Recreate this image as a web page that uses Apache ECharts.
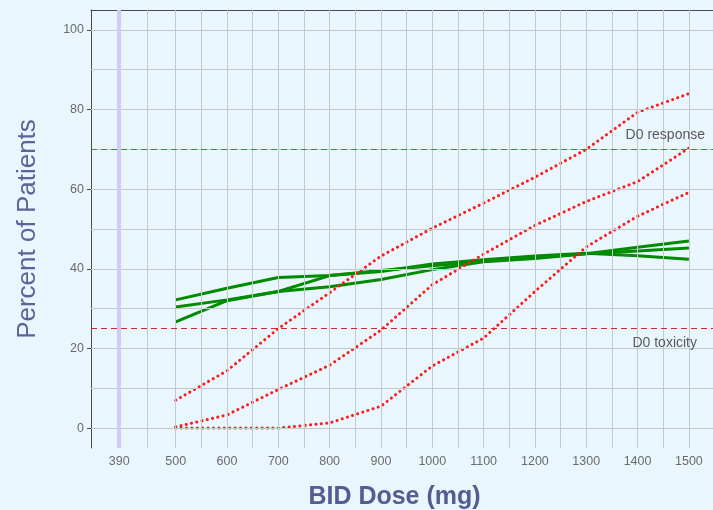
<!DOCTYPE html>
<html>
<head>
<meta charset="utf-8">
<script src="https://cdn.jsdelivr.net/npm/echarts@6/dist/echarts.min.js"></script>
<style>
  html, body { margin: 0; padding: 0; background: #eaf6fd; }
  #chart { width: 713px; height: 510px; }
</style>
</head>
<body>
<div id="chart"></div>
<script>
// Dose levels (mg) shared by every curve
const doses = [500, 600, 700, 800, 900, 1000, 1100, 1200, 1300, 1400, 1500];

// Response curves (solid green), percent of patients
const responseA = [32.2, 35.1, 37.8, 38.3, 39.3, 41.2, 42.3, 43.2, 43.9, 43.3, 42.4];
const responseB = [30.4, 32.2, 34.3, 38.3, 39.6, 40.8, 41.9, 42.9, 43.8, 44.5, 45.2];
const responseC = [26.7, 32.0, 34.3, 35.5, 37.3, 39.8, 41.8, 42.6, 43.8, 45.4, 47.0];

// Toxicity curves (dotted red), percent of patients
const toxicityA = [7.0, 14.4, 25.0, 34.0, 43.2, 50.2, 56.5, 63.0, 70.0, 79.3, 84.0];
const toxicityB = [0.3, 3.3, 9.7, 15.8, 24.6, 36.0, 43.7, 50.9, 56.9, 61.9, 70.3];
const toxicityC = [0.0, 0.0, 0.0, 1.3, 5.5, 15.6, 22.6, 34.3, 45.5, 53.2, 59.2];

// Axis breaks
const xTicks = [390, 500, 600, 700, 800, 900, 1000, 1100, 1200, 1300, 1400, 1500];
const yTicks = [0, 20, 40, 60, 80, 100];

// Reference levels
const startDose = 390;
const responseTarget = 70;
const toxicityLimit = 25;

// Minor breaks sit halfway between consecutive major breaks
const xMinor = xTicks.slice(1).map((v, i) => (v + xTicks[i]) / 2);
const yMinor = yTicks.slice(1).map((v, i) => (v + yTicks[i]) / 2);

const font = "'Liberation Sans', Arial, sans-serif";
const gridColor = '#c3c8cb';

const toPairs = ys => doses.map((d, i) => [d, ys[i]]);

const gridLines = []
  .concat(xTicks.concat(xMinor).map(v => ({ xAxis: v })))
  .concat(yTicks.concat(yMinor).map(v => ({ yAxis: v })));

function responseSeries(ys) {
  return {
    type: 'line', data: toPairs(ys), showSymbol: false, z: 3,
    lineStyle: { color: '#008b00', width: 3 }, silent: true
  };
}
function toxicitySeries(ys) {
  return {
    type: 'line', data: toPairs(ys), showSymbol: false, z: 4,
    lineStyle: { color: '#ff1a1a', width: 3, type: [0.1, 5.3], cap: 'round' }, silent: true
  };
}

const chart = echarts.init(document.getElementById('chart'), null, { renderer: 'canvas' });
chart.setOption({
  backgroundColor: '#eaf6fd',
  animation: false,
  grid: { left: 91, right: 0, top: 10, bottom: 62, containLabel: false, outerBoundsMode: 'none' },
  xAxis: [{
    type: 'value', min: 335, max: 1547,
    name: 'BID Dose (mg)', nameLocation: 'middle', nameGap: 37,
    nameTextStyle: { fontFamily: font, fontSize: 25, fontWeight: 'bold', color: '#545d92', padding: [0, 15, 0, 0] },
    axisLine: { show: true, lineStyle: { color: '#4a4a4a', width: 1 } },
    axisTick: { show: true, customValues: xTicks, length: 3, lineStyle: { color: '#4a4a4a' } },
    axisLabel: {
      customValues: xTicks, formatter: v => String(v),
      color: '#6b6b6b', fontFamily: font, fontSize: 12.5, margin: 7
    },
    splitLine: { show: false }
  }, {
    type: 'value', min: 335, max: 1547, position: 'top',
    axisLine: { show: true, lineStyle: { color: '#4a4a4a', width: 1 } },
    axisTick: { show: false }, axisLabel: { show: false }, splitLine: { show: false }
  }],
  yAxis: {
    type: 'value', min: -5, max: 105,
    name: 'Percent of Patients', nameLocation: 'middle', nameGap: 50,
    nameTextStyle: { fontFamily: font, fontSize: 26, color: '#5a6496' },
    axisLine: { show: true, lineStyle: { color: '#4a4a4a', width: 1 } },
    axisTick: { show: true, customValues: yTicks, length: 4, lineStyle: { color: '#4a4a4a' } },
    axisLabel: {
      customValues: yTicks, formatter: v => String(v),
      color: '#6b6b6b', fontFamily: font, fontSize: 12.5, margin: 7
    },
    splitLine: { show: false }
  },
  series: [
    {
      // panel grid
      type: 'line', data: [], z: 1, silent: true,
      markLine: {
        silent: true, symbol: 'none', animation: false,
        label: { show: false },
        lineStyle: { color: gridColor, width: 1, type: 'solid' },
        data: gridLines
      }
    },
    {
      // reference lines
      type: 'line', data: [], z: 2, silent: true,
      markLine: {
        silent: true, symbol: 'none', animation: false,
        data: [
          {
            xAxis: startDose,
            lineStyle: { color: '#cfcaf8', width: 4, type: 'solid' },
            label: { show: false }
          },
          {
            yAxis: responseTarget,
            lineStyle: { color: '#3f8a3f', width: 1, type: [6, 4] },
            label: {
              show: true, formatter: 'D0 response', position: 'insideEndTop',
              distance: [8, 7], color: '#5a5a5a', fontFamily: font, fontSize: 14
            }
          },
          {
            yAxis: toxicityLimit,
            lineStyle: { color: '#cc2a2a', width: 1, type: [6, 4] },
            label: {
              show: true, formatter: 'D0 toxicity', position: 'insideEndBottom',
              distance: [16, 8], color: '#5a5a5a', fontFamily: font, fontSize: 14
            }
          }
        ]
      }
    },
    responseSeries(responseA),
    responseSeries(responseB),
    responseSeries(responseC),
    toxicitySeries(toxicityA),
    toxicitySeries(toxicityB),
    toxicitySeries(toxicityC)
  ]
});
</script>
</body>
</html>
